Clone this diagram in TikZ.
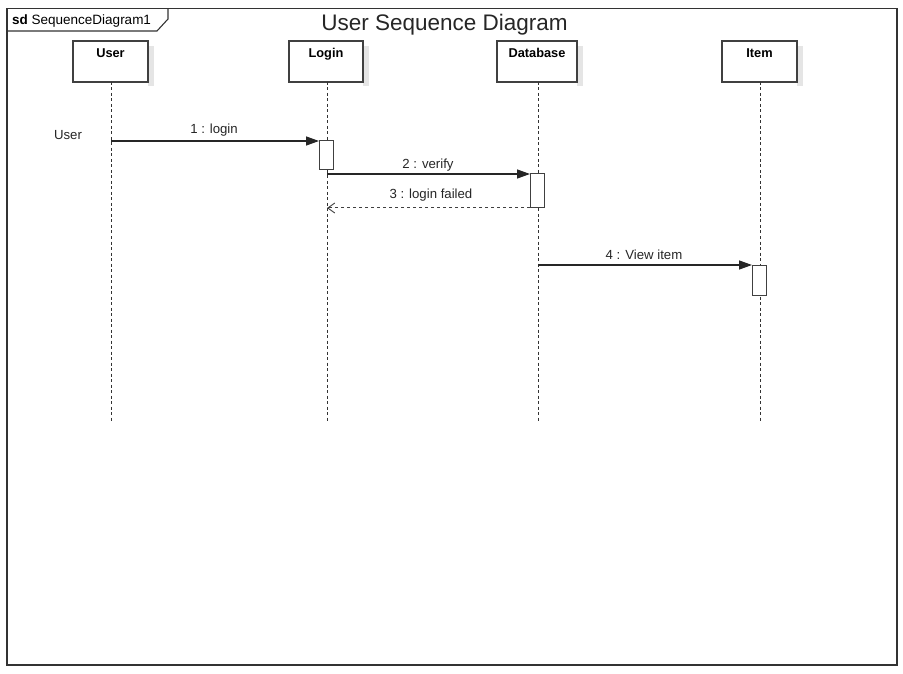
\documentclass[tikz,border=0pt]{standalone}
\usepackage{fontspec}
\setmainfont{Liberation Sans}
\usetikzlibrary{arrows.meta}
\begin{document}
\begin{tikzpicture}[x=1pt,y=-1pt,
  lifebox/.style={draw=black!75, line width=1.1pt, fill=white, inner sep=0pt, outer sep=0pt, minimum height=41pt},
  boxshadow/.style={fill=black!10, draw=none},
  boxtext/.style={font=\fontsize{12.8}{14}\selectfont\bfseries, anchor=base, inner sep=0pt},
  lifeline/.style={draw=black!80, line width=1pt, dash pattern=on 3pt off 2.5pt},
  activation/.style={draw=black!75, line width=1pt, fill=white, inner sep=0pt, outer sep=0pt, minimum width=14pt},
  msg/.style={draw=black!85, line width=1.3pt, -{Triangle[length=13pt,width=9pt]}},
  reply/.style={draw=black!75, line width=1pt, dash pattern=on 3.5pt off 2.5pt, -{Straight Barb[length=7pt,width=10pt,line width=0.9pt]}},
  msglabel/.style={font=\fontsize{13.2}{15}\selectfont, anchor=base, inner sep=0pt, text=black!85}
]
\useasboundingbox (0,0) rectangle (903,674);
\fill[white] (0,0) rectangle (903,674);

% frame
\draw[black!80, line width=1.3pt] (7,8.5) rectangle (897,665);
\draw[black!80, line width=1.1pt] (7,31) -- (157,31) -- (168,19) -- (168,8.5);
\node[anchor=base west, inner sep=0pt, font=\fontsize{13.5}{15}\selectfont] (sdlabel) at (12,24.5) {\textbf{sd} SequenceDiagram1};
\node[anchor=base, inner sep=0pt, font=\fontsize{22.5}{26}\selectfont, text=black!85] (title) at (444.5,31) {User Sequence Diagram};

% shadows
\fill[boxshadow] (154,46) rectangle (148,86);
\fill[boxshadow] (369,46) rectangle (363,86);
\fill[boxshadow] (583,46) rectangle (577,86);
\fill[boxshadow] (803,46) rectangle (797,86);

% lifeline boxes
\node[lifebox, minimum width=75pt] (user) at (110.5,61.5) {};
\node[lifebox, minimum width=74pt] (login) at (326,61.5) {};
\node[lifebox, minimum width=80pt] (db) at (537,61.5) {};
\node[lifebox, minimum width=75pt] (item) at (759.5,61.5) {};

\node[boxtext] (usert) at (110.5,58) {User};
\node[boxtext] (logint) at (326,58) {Login};
\node[boxtext] (dbt) at (537,58) {Database};
\node[boxtext] (itemt) at (759.5,58) {Item};

% lifelines
\coordinate (userend) at (111,422);
\coordinate (loginend) at (327,422);
\coordinate (dbend) at (538,422);
\coordinate (itemend) at (760,422);
\draw[lifeline] (111,82) -- (userend);
\draw[lifeline] (327,82) -- (loginend);
\draw[lifeline] (538,82) -- (dbend);
\draw[lifeline] (760,82) -- (itemend);

% activations
\node[activation, minimum height=29pt] (act1) at (326,155.5) {};
\node[activation, minimum height=34pt] (act2) at (537,191) {};
\node[activation, minimum height=30pt] (act3) at (759,280) {};

% messages
\coordinate (m1s) at (111,141);
\coordinate (m2s) at (327,174);
\coordinate (m3e) at (327,208);
\coordinate (m4s) at (538,265);
\draw[msg] (m1s) -- (act1.north west);
\draw[msg] (m2s) -- (act2.north west);
\draw[reply] (act2.south west) -- (m3e);
\draw[msg] (m4s) -- (act3.north west);

\node[msglabel] (actorlbl) at (68,140) {User};
\node[msglabel] (l1) at (214,134) {1 : login};
\node[msglabel] (l2) at (428,168.5) {2 : verify};
\node[msglabel] (l3) at (431,199) {3 : login failed};
\node[msglabel] (l4) at (644,259) {4 : View item};
\end{tikzpicture}
\end{document}
